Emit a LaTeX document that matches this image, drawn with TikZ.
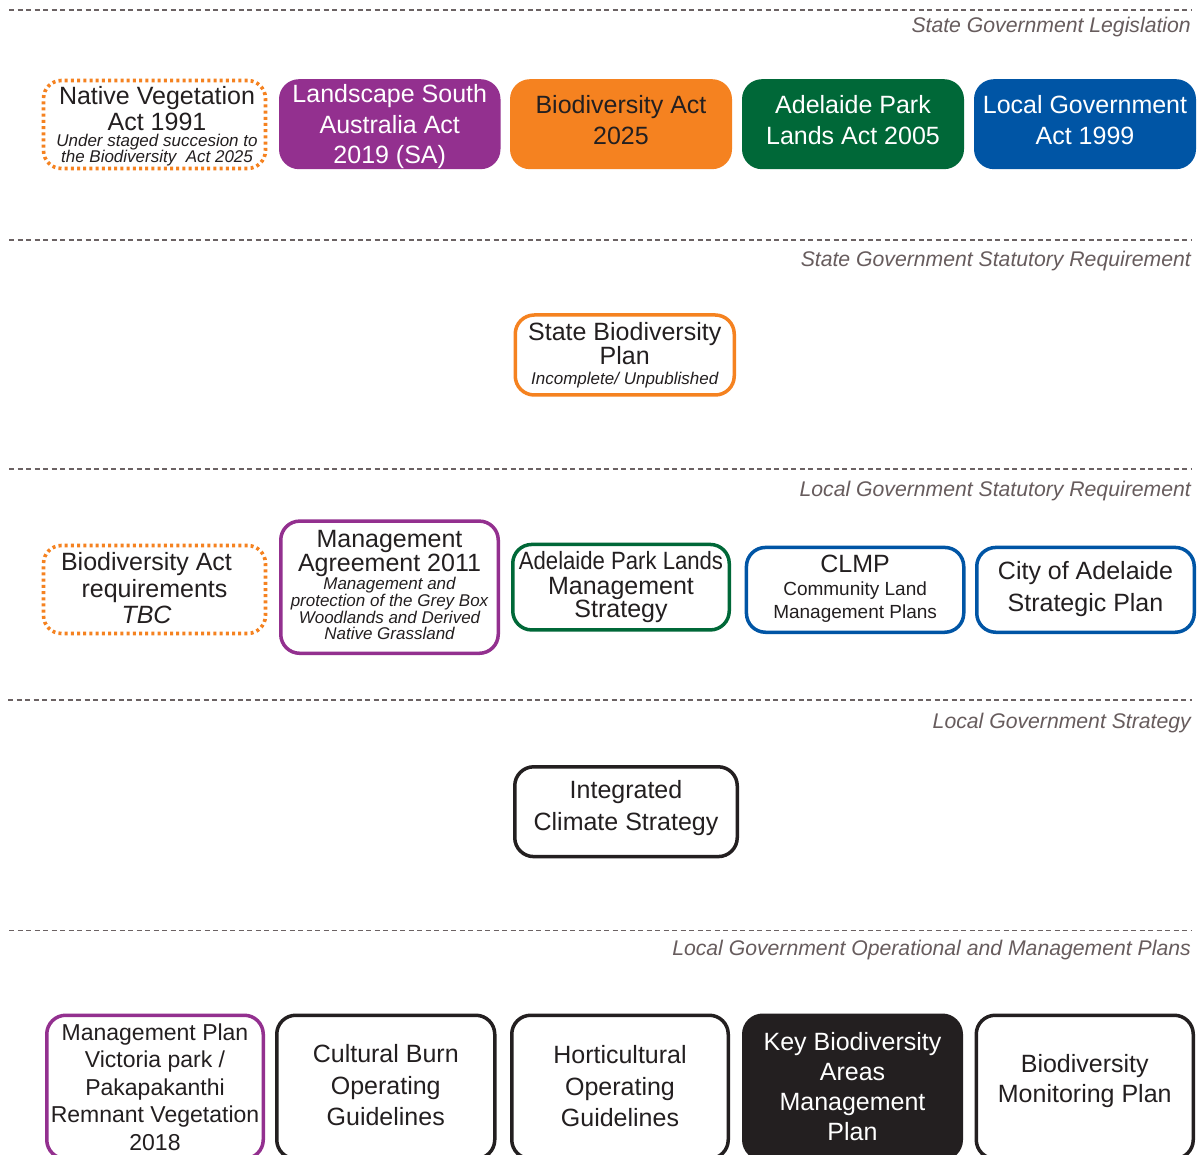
\documentclass[tikz,border=0pt]{standalone}
\usepackage{fontspec}
\setmainfont{Liberation Sans}
\usepackage{graphicx}
\definecolor{ink}{HTML}{231F20}
\definecolor{lbl}{HTML}{675C5D}
\definecolor{sepc}{HTML}{6B6263}
\definecolor{cpurple}{HTML}{93308F}
\definecolor{corange}{HTML}{F58220}
\definecolor{cgreen}{HTML}{006838}
\definecolor{cblue}{HTML}{0055A5}
\newcommand\setfs[2]{\fontsize{#1}{#2}\selectfont\lineskiplimit=-100pt\relax}
\newcommand\adddepth[1]{\rule[-#1]{0pt}{#1}}
\newcommand\nodepth[1]{\raisebox{0pt}[\height][0pt]{#1}}
\newcommand\smallit{\setfs{17}{17}\itshape}
\tikzset{
  box/.style={rectangle, inner sep=0pt, align=center, text=ink},
  filledbox/.style={box, rounded corners=20pt, fill=#1, draw=none, text=white},
  framedbox/.style={box, rounded corners=19pt, draw=#1, fill=white, line width=3.5pt},
  dotbox/.style={box, rounded corners=18pt, draw=corange, line width=3.6pt, dash pattern=on 3pt off 3.2pt},
  seprule/.style={draw=sepc, line width=1.8pt, dash pattern=on 5pt off 3.5pt},
  seplabel/.style={anchor=base east, inner sep=0pt, font=\setfs{21.2}{25}\itshape, text=lbl}
}
\begin{document}
\begin{tikzpicture}[x=1pt,y=-1pt]
\useasboundingbox (0,0) rectangle (1200,1155);
\fill[white] (0,0) rectangle (1200,1155);

% separators and level labels
\draw[seprule] (9,10) -- (1192,10);
\draw[seprule] (9,240) -- (1192,240);
\draw[seprule] (9,469) -- (1192,469);
\draw[seprule] (8,700) -- (1192,700);
\draw[seprule] (9,930.5) -- (1192,930.5);
\node[seplabel] (l1) at (1191,33) {State Government Legislation};
\node[seplabel] (l2) at (1191,266.5) {State Government Statutory Requirement};
\node[seplabel] (l3) at (1191,496.5) {Local Government Statutory Requirement};
\node[seplabel] (l4) at (1191,728.5) {Local Government Strategy};
\node[seplabel] (l5) at (1191,955) {Local Government Operational and Management Plans};

% row 1: legislation
\node[dotbox, minimum width=222pt, minimum height=88pt, font=\setfs{25}{25.5}] (nv) at (154.5,124.5)
  {\hspace*{5pt}Native Vegetation\\\hspace*{5pt}Act 1991\\[-9pt]{\smallit\hspace*{5pt}Under staged succesion to}\\[-10pt]{\smallit\nodepth{\hspace*{5pt}the Biodiversity~ Act 2025}}};
\node[filledbox=cpurple, minimum width=221.5pt, minimum height=90pt, font=\setfs{25}{30.5}] (lsa) at (389.75,124.2)
  {Landscape South\\Australia Act\\\nodepth{2019 (SA)}};
\node[filledbox=corange, text=ink, minimum width=222pt, minimum height=90pt, font=\setfs{25}{31}] (ba) at (621,124.2)
  {Biodiversity Act\\2025\adddepth{8pt}};
\node[filledbox=cgreen, minimum width=222pt, minimum height=90pt, font=\setfs{25}{31}] (apl) at (853,124.2)
  {Adelaide Park\\Lands Act 2005\adddepth{8pt}};
\node[filledbox=cblue, minimum width=222pt, minimum height=90pt, font=\setfs{25}{31}] (lg) at (1085,124.2)
  {Local Government\\Act 1999\adddepth{8pt}};

% row 2
\node[framedbox=corange, minimum width=219pt, minimum height=80pt, font=\setfs{25}{24}] (sbp) at (624.75,355)
  {State Biodiversity\\Plan\\[-3.5pt]{\smallit Incomplete/ Unpublished}};

% row 3
\node[dotbox, minimum width=222pt, minimum height=88pt, font=\setfs{25}{26.5}] (bar) at (154.5,589.5)
  {Biodiversity Act\hspace*{16pt}\\requirements\hspace*{16pt}\\{\itshape TBC}\hspace*{16pt}\adddepth{3pt}};
\node[framedbox=cpurple, minimum width=217.5pt, minimum height=132.2pt, font=\setfs{25}{23.5}] (ma) at (389.5,587.2)
  {Management\\Agreement 2011\\[-5pt]{\smallit Management and}\\[-6.5pt]{\smallit protection of the Grey Box}\\[-6.5pt]{\smallit Woodlands and Derived}\\[-7.5pt]{\smallit Native Grassland\adddepth{4.4pt}}};
\node[framedbox=cgreen, minimum width=216.5pt, minimum height=85.5pt, font=\setfs{25}{24}] (aplms) at (621,587.2)
  {\scalebox{0.885}[1]{Adelaide Park Lands}\\[0.5pt]Management\\[-1pt]Strategy};
\node[framedbox=cblue, minimum width=217.3pt, minimum height=84.8pt, font=\setfs{25}{23}] (clmp) at (855.1,589.85)
  {CLMP\\{\setfs{19}{19}Community Land}\\[-0.5pt]{\setfs{19}{19}Management Plans\adddepth{6.4pt}}};
\node[framedbox=cblue, minimum width=217.5pt, minimum height=84.8pt, font=\setfs{25}{32}] (coa) at (1085.5,589.85)
  {City of Adelaide\\Strategic Plan\adddepth{7.7pt}};

% row 4
\node[framedbox=ink, minimum width=222.5pt, minimum height=89.8pt, font=\setfs{25}{31.7}] (ics) at (626,811.7)
  {Integrated\\Climate Strategy\adddepth{12pt}};

% row 5
\node[framedbox=cpurple, minimum width=216.5pt, minimum height=143.5pt, font=\setfs{23}{27.5}] (mp) at (155,1087)
  {Management Plan\\Victoria park /\\Pakapakanthi\\Remnant Vegetation\\2018};
\node[framedbox=ink, minimum width=218pt, minimum height=143.5pt, font=\setfs{25}{31.5}] (cb) at (385.75,1087)
  {Cultural Burn\\Operating\\Guidelines\adddepth{3.5pt}};
\node[framedbox=ink, minimum width=216.5pt, minimum height=143.5pt, font=\setfs{25}{31.5}] (hort) at (620,1087)
  {Horticultural\\Operating\\Guidelines\adddepth{1.5pt}};
\node[framedbox=ink, fill=ink, text=white, minimum width=217.5pt, minimum height=143.5pt, font=\setfs{25}{30}] (kb) at (852.5,1087)
  {Key Biodiversity\\Areas\\Management\\Plan};
\node[framedbox=ink, minimum width=217pt, minimum height=143.5pt, font=\setfs{25}{30}] (bmp) at (1084.75,1087)
  {Biodiversity\\Monitoring Plan\adddepth{17pt}};
\end{tikzpicture}
\end{document}
